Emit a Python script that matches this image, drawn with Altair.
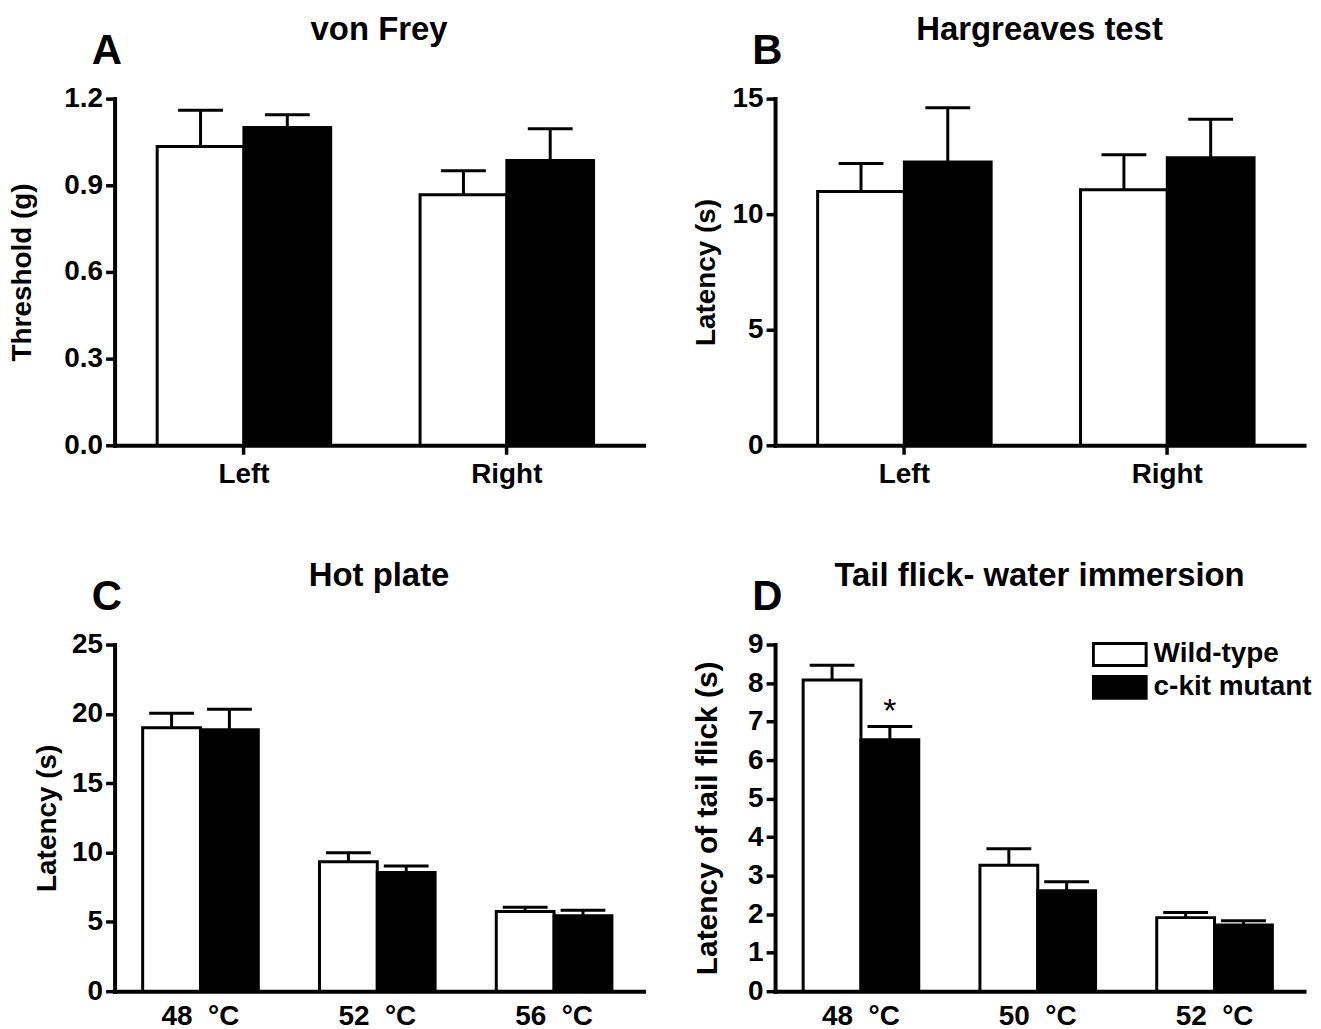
import altair as alt
import pandas as pd

FONT = "Liberation Sans"
groups = ["Wild-type", "c-kit mutant"]

# Panel A - von Frey
a_cats = ["Left", "Right"]
a_wt_mean = [1.034, 0.867]
a_wt_sem = [0.126, 0.083]
a_mut_mean = [1.100, 0.986]
a_mut_sem = [0.044, 0.110]

# Panel B - Hargreaves
b_cats = ["Left", "Right"]
b_wt_mean = [10.98, 11.06]
b_wt_sem = [1.21, 1.51]
b_mut_mean = [12.26, 12.44]
b_mut_sem = [2.34, 1.67]

# Panel C - Hot plate
c_cats = ["48\u00a0\u00a0°C", "52\u00a0\u00a0°C", "56\u00a0\u00a0°C"]
c_wt_mean = [19.00, 9.33, 5.74]
c_wt_sem = [1.05, 0.65, 0.31]
c_mut_mean = [18.85, 8.56, 5.45]
c_mut_sem = [1.48, 0.46, 0.39]

# Panel D - Tail flick
d_cats = ["48\u00a0\u00a0°C", "50\u00a0\u00a0°C", "52\u00a0\u00a0°C"]
d_wt_mean = [8.08, 3.27, 1.91]
d_wt_sem = [0.38, 0.43, 0.13]
d_mut_mean = [6.53, 2.61, 1.72]
d_mut_sem = [0.34, 0.23, 0.11]
d_mut_sig = ["*", "", ""]


def make_df(cats, wt_m, wt_s, mut_m, mut_s, mut_sig=None):
    rows = []
    for i, c in enumerate(cats):
        rows.append({"cat": c, "group": groups[0], "mean": wt_m[i],
                     "top": wt_m[i] + wt_s[i], "sig": ""})
        rows.append({"cat": c, "group": groups[1], "mean": mut_m[i],
                     "top": mut_m[i] + mut_s[i],
                     "sig": mut_sig[i] if mut_sig else ""})
    return pd.DataFrame(rows)


def panel(df, cats, letter, title, ytitle, ymax, yvals, yfmt, title_x,
          pad_in, pad_out, align, x_ticks, legend=None, star=False,
          ytitle_size=28):
    x = alt.X("cat:N", sort=cats, title=None,
              scale=alt.Scale(paddingInner=pad_in, paddingOuter=pad_out,
                              align=align),
              axis=alt.Axis(labelAngle=0, labelFontSize=28, labelFont=FONT,
                            labelFontWeight="bold", labelColor="black",
                            domainColor="black", domainWidth=4, domainCap="square",
                            ticks=x_ticks, tickSize=9, tickWidth=3.5,
                            tickColor="black",
                            labelPadding=6 if x_ticks else 11))
    xo = alt.XOffset("group:N", sort=groups,
                     scale=alt.Scale(paddingInner=0, paddingOuter=0))
    y = alt.Y("mean:Q", scale=alt.Scale(domain=[0, ymax], nice=False, zero=True),
              axis=alt.Axis(values=yvals, tickCount=len(yvals) + 2,
                            format=yfmt, title=ytitle,
                            titleX=title_x, titleFontSize=ytitle_size,
                            titleFont=FONT,
                            titleFontWeight="bold", titleColor="black",
                            labelFontSize=28, labelFont=FONT,
                            labelFontWeight="bold", labelColor="black",
                            labelPadding=3, labelOverlap=False, grid=False,
                            domainColor="black", domainWidth=4, domainCap="square",
                            tickSize=9, tickWidth=3.5, tickColor="black"))
    fill = alt.Fill("group:N", sort=groups,
                    scale=alt.Scale(domain=groups, range=["white", "black"]),
                    legend=legend)
    base = alt.Chart(df)
    bars = base.mark_bar(stroke="black", strokeWidth=3, opacity=1).encode(
        x=x, xOffset=xo, y=y, fill=fill)
    rules = base.mark_rule(color="black", strokeWidth=3).encode(
        x=x, xOffset=xo, y="mean:Q", y2="top:Q")
    caps = base.mark_tick(color="black", thickness=3, size=45,
                          orient="horizontal", opacity=1).encode(
        x=x, xOffset=xo, y="top:Q")
    lab = alt.Chart(pd.DataFrame({"t": [letter]})).mark_text(
        fontSize=42, font=FONT, fontWeight="bold", align="left",
        baseline="alphabetic", color="black").encode(
        text="t:N", x=alt.value(-23), y=alt.value(-35))
    layers = [bars, rules, caps, lab]
    if star:
        layers.append(base.mark_text(fontSize=34, font=FONT, baseline="alphabetic",
                                     color="black", dy=-5).encode(
            x=x, xOffset=xo, y="top:Q", text="sig:N"))
    return alt.layer(*layers).properties(
        width=531, height=348,
        title=alt.TitleParams(text=title, fontSize=33, font=FONT,
                              fontWeight="bold", color="black",
                              anchor="middle", frame="group", offset=-17))


df_a = make_df(a_cats, a_wt_mean, a_wt_sem, a_mut_mean, a_mut_sem)
df_b = make_df(b_cats, b_wt_mean, b_wt_sem, b_mut_mean, b_mut_sem)
df_c = make_df(c_cats, c_wt_mean, c_wt_sem, c_mut_mean, c_mut_sem)
df_d = make_df(d_cats, d_wt_mean, d_wt_sem, d_mut_mean, d_mut_sem, d_mut_sig)

legend_d = alt.Legend(orient="none", legendX=318, legendY=-3, title=None,
                      symbolType="M-1,-0.415H1V0.415H-1Z", symbolSize=2809,
                      symbolStrokeColor="black", symbolStrokeWidth=3,
                      labelFontSize=28, labelFont=FONT, labelFontWeight="bold",
                      labelColor="black", labelOffset=6, rowPadding=5,
                      clipHeight=26, padding=0, symbolOpacity=1)

pa = panel(df_a, a_cats, "A", "von Frey", "Threshold (g)", 1.2,
           [0, 0.3, 0.6, 0.9, 1.2], ".1f", -78, 0.34, 0.176, 0.46, True)
pb = panel(df_b, b_cats, "B", "Hargreaves test", "Latency (s)", 15,
           [0, 5, 10, 15], "d", -55, 0.34, 0.176, 0.46, True)
pc = panel(df_c, c_cats, "C", "Hot plate", "Latency (s)", 25,
           [0, 5, 10, 15, 20, 25], "d", -53, 0.346, 0.169, 0.47, False)
pd_ = panel(df_d, d_cats, "D", "Tail flick- water immersion",
            "Latency of tail flick (s)", 9, list(range(10)), "d", -53,
            0.346, 0.169, 0.47, False, legend=legend_d, star=True,
            ytitle_size=30)

chart = alt.concat(pa, pb, pc, pd_, columns=2,
                   spacing={"row": 70, "column": 47}).resolve_scale(
    x="independent", y="independent", xOffset="independent",
    fill="independent").properties(
    padding={"left": 0, "top": 3, "right": 0, "bottom": 0},
    background="white").configure_view(stroke="transparent")

chart.save("out.html", embed_options={"renderer": "svg", "actions": False})
